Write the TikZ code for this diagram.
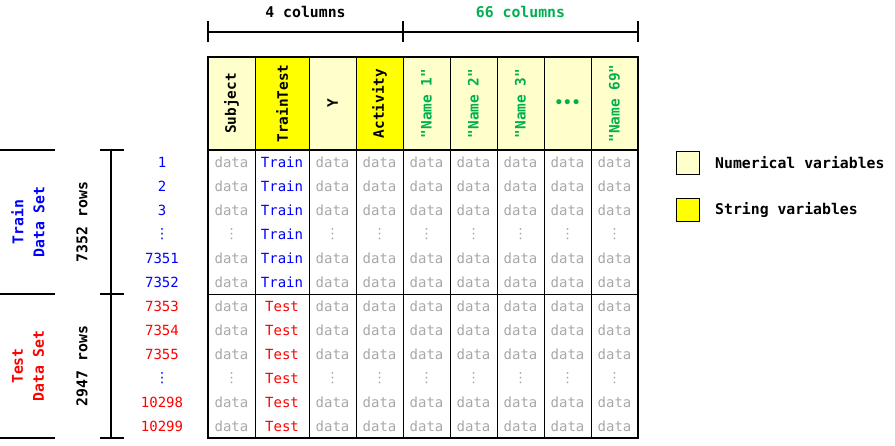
\documentclass[tikz,border=0pt]{standalone}
\usepackage{fontspec}
\setmainfont{DejaVu Sans Mono}[Ligatures=TeXOff]
\newfontfamily\symfont{DejaVu Sans}
\definecolor{paleyellow}{RGB}{255,255,204}
\definecolor{stryellow}{RGB}{255,255,0}
\definecolor{namegreen}{RGB}{0,176,80}
\definecolor{datagray}{RGB}{168,168,168}
\usetikzlibrary{positioning}
\newcommand{\vdts}{{\symfont ⋮}}

\begin{document}
\begin{tikzpicture}[x=1pt, y=-1pt,
      every node/.style={font=\fontsize{14}{16}\selectfont, inner sep=0pt},
      hdr/.style={draw, line width=1pt, fill=paleyellow, rotate=90,
                  minimum width=93pt, minimum height=47pt,
                  font=\bfseries\fontsize{14.4}{16}\selectfont},
      strhdr/.style={hdr, fill=stryellow},
      namehdr/.style={hdr, text=namegreen},
      dotshdr/.style={draw, line width=1pt, fill=paleyellow, text=namegreen,
                      minimum width=47pt, minimum height=93pt,
                      font=\bfseries\fontsize{14.4}{16}\selectfont},
      cell/.style={text=datagray},
      side/.style={rotate=90, align=center,
                   font=\bfseries\fontsize{14.8}{21}\selectfont},
      brk/.style={line width=1.2pt},
      grid/.style={line width=1pt},
      frame/.style={line width=2.5pt},
      keybox/.style={draw, line width=1pt, minimum size=23pt},
      keytxt/.style={anchor=west, font=\bfseries\fontsize{14.8}{16}\selectfont}
    ]
    \useasboundingbox (0,0) rectangle (895,445);

    % column headers
    \node[hdr] (hSubject) at (231.5,103.5) {Subject};
    \node[strhdr, minimum height=54pt] (hTrainTest) at (282,103.5) {TrainTest};
    \node[hdr] (hY) at (332.5,103.5) {Y};
    \node[strhdr] (hActivity) at (379.5,103.5) {Activity};
    \node[namehdr] (hName1) at (426.5,103.5) {"Name 1"};
    \node[namehdr] (hName2) at (473.5,103.5) {"Name 2"};
    \node[namehdr] (hName3) at (520.5,103.5) {"Name 3"};
    \node[dotshdr] (hDots) at (567.5,103.5) {•••};
    \node[namehdr] (hName69) at (614.5,103.5) {"Name 69"};

    % data cells
    \foreach \r/\y/\t in {1/162/data, 2/186/data, 3/210/data, 4/234/\vdts,
                          5/258/data, 6/282/data, 7/306/data, 8/330/data,
                          9/354/data, 10/378/\vdts, 11/402/data, 12/426/data}
      \foreach \c/\x in {1/231.5, 3/332.5, 4/379.5, 5/426.5, 6/473.5,
                         7/520.5, 8/567.5, 9/614.5}
        \node[cell] (d\r-\c) at (\x,\y) {\t};
    \foreach \r/\y in {1/162, 2/186, 3/210, 4/234, 5/258, 6/282}
      \node[text=blue] (tt\r) at (282,\y) {Train};
    \foreach \r/\y in {7/306, 8/330, 9/354, 10/378, 11/402, 12/426}
      \node[text=red] (tt\r) at (282,\y) {Test};

    % row numbers
    \foreach \r/\y/\n/\col in {1/162/1/blue, 2/186/2/blue, 3/210/3/blue,
                               4/234/\vdts/blue, 5/258/7351/blue, 6/282/7352/blue,
                               7/306/7353/red, 8/330/7354/red, 9/354/7355/red,
                               10/378/\vdts/blue, 11/402/10298/red, 12/426/10299/red}
      \node[text=\col] (n\r) at (162,\y) {\n};

    % table lines
    \foreach \x in {255,309,356,403,450,497,544,591}
      \draw[grid] (\x,150) -- (\x,438);
    \draw[grid] (208,294) -- (638,294);
    \draw[frame] (208,150) -- (638,150);
    \draw[frame] (208,57) rectangle (638,438);

    % column brackets
    \coordinate (cA) at (208,32);
    \coordinate (cB) at (403,32);
    \coordinate (cC) at (638,32);
    \draw[brk] (cA) -- (cC);
    \foreach \p in {cA,cB,cC}
      \draw[brk] ([yshift=11pt]\p) -- ([yshift=-10pt]\p);
    \node[font=\bfseries\fontsize{14.8}{16}\selectfont] (cols4) at (305.5,12) {4 columns};
    \node[font=\bfseries\fontsize{14.8}{16}\selectfont, text=namegreen]
      (cols66) at (520.5,12) {66 columns};

    % row brackets
    \draw[brk] (0,150) -- (55,150);
    \draw[brk] (0,294) -- (55,294);
    \draw[brk] (0,438) -- (55,438);
    \coordinate (rA) at (111,150);
    \coordinate (rB) at (111,294);
    \coordinate (rC) at (111,438);
    \draw[brk] (rA) -- (rC);
    \foreach \p in {rA,rB,rC}
      \draw[brk] ([xshift=-11pt]\p) -- ([xshift=13pt]\p);
    \node[side, text=blue] (trainSet) at (28,222) {Train\\Data Set};
    \node[side] (trainRows) at (82,222) {7352 rows};
    \node[side, text=red] (testSet) at (28,366) {Test\\Data Set};
    \node[side] (testRows) at (82,366) {2947 rows};

    % legend
    \node[keybox, fill=paleyellow] (kNum) at (687.5,162.5) {};
    \node[keybox, fill=stryellow] (kStr) at (687.5,210) {};
    \node[keytxt] (kNumTxt) at (715,163) {Numerical variables};
    \node[keytxt] (kStrTxt) at (715,210.5) {String variables};
  \end{tikzpicture}
\end{document}
